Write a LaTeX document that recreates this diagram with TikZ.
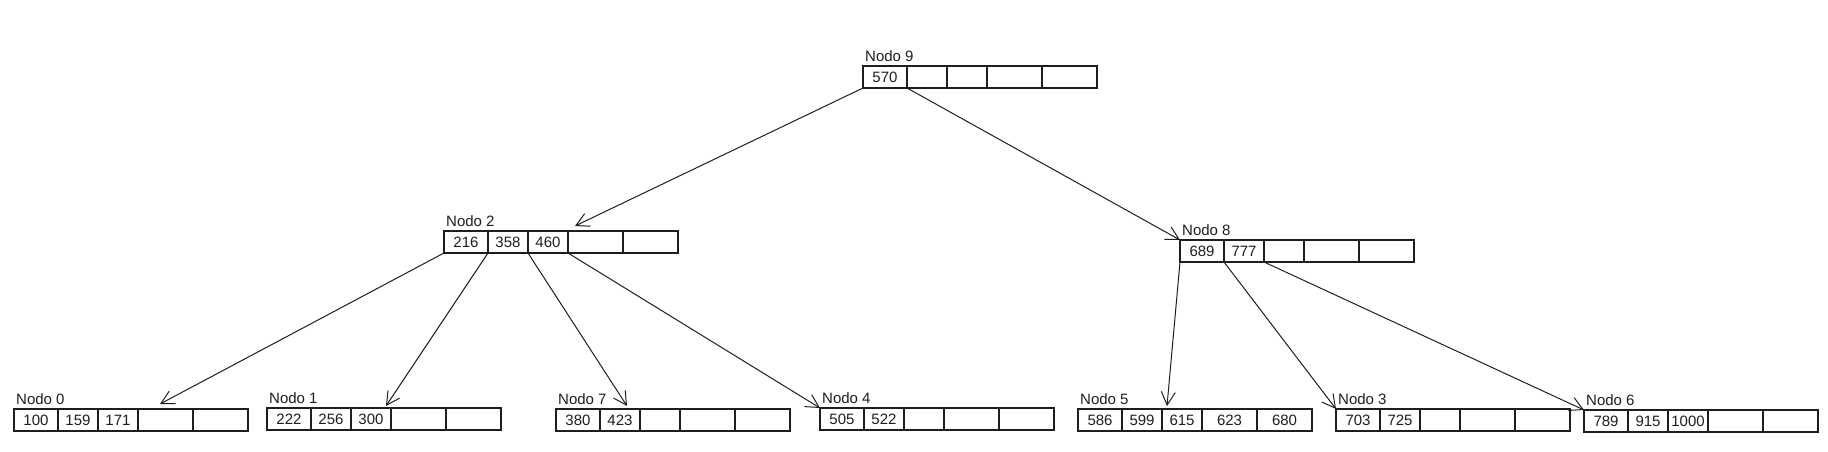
\documentclass[tikz,border=0pt]{standalone}
\usepackage{fontspec}
\setmainfont{Liberation Sans}
\usepackage{xcolor}
\definecolor{trazo}{RGB}{30,30,30}
\usepackage{tikz}
\usetikzlibrary{arrows.meta, positioning}

\tikzset{
    celda/.style={draw=trazo, line width=1.2pt, minimum height=22pt, inner sep=0pt, outer sep=0pt},
    etiqueta/.style={anchor=south west, inner sep=0pt, xshift=2pt, yshift=4pt, font=\fontsize{15}{18}\selectfont, text=trazo},
    valor/.style={inner sep=0pt, font=\fontsize{15}{18}\selectfont, text=trazo},
    flecha/.style={draw=trazo, line width=1pt, -{Straight Barb[length=13pt, width=14pt]}}
}

% nodo del arbol: nombre, x, y, etiqueta, claves
\newcommand{\bnodo}[5]{%
    \node[celda, minimum width=44pt, anchor=north west] (#1-1) at (#2,#3) {};
    \node[celda, minimum width=40pt, right=0pt of #1-1] (#1-2) {};
    \node[celda, minimum width=40pt, right=0pt of #1-2] (#1-3) {};
    \node[celda, minimum width=55pt, right=0pt of #1-3] (#1-4) {};
    \node[celda, minimum width=55pt, right=0pt of #1-4] (#1-5) {};
    \node[etiqueta] (#1-lab) at (#1-1.north west) {#4};
    \foreach \v [count=\i] in {#5} {\node[valor] (#1-v\i) at (#1-\i) {\v};}
}

\begin{document}
\begin{tikzpicture}[x=1pt, y=-1pt]
        \useasboundingbox (0,0) rectangle (1828,452);

        % Raiz
        \bnodo{n9}{863}{66}{Nodo 9}{570}

        % Nivel intermedio
        \bnodo{n2}{444}{231}{Nodo 2}{216,358,460}
        \bnodo{n8}{1180}{240}{Nodo 8}{689,777}

        % Hojas
        \bnodo{n0}{14}{409}{Nodo 0}{100,159,171}
        \bnodo{n1}{267}{408}{Nodo 1}{222,256,300}
        \bnodo{n7}{556}{409}{Nodo 7}{380,423}
        \bnodo{n4}{820}{408}{Nodo 4}{505,522}
        \bnodo{n5}{1078}{409}{Nodo 5}{586,599,615,623,680}
        \bnodo{n3}{1336}{409}{Nodo 3}{703,725}
        \bnodo{n6}{1584}{410}{Nodo 6}{789,915,1000}

        % Punteros
        \draw[flecha] (n9-1.south west) -- ([shift={(7,-5)}]n2-4.north west);
        \draw[flecha] (n9-1.south east) -- (n8-1.north west);
        \draw[flecha] (n2-1.south west) -- ([shift={(22,-5)}]n0-4.north west);
        \draw[flecha] (n2-1.south east) -- ([shift={(-5,-2)}]n1-4.north west);
        \draw[flecha] (n2-2.south east) -- ([shift={(-13,-3)}]n7-2.north east);
        \draw[flecha] (n2-3.south east) -- (n4-1.north west);
        \draw[flecha] (n8-1.south west) -- ([shift={(5,-3)}]n5-3.north west);
        \draw[flecha] (n8-1.south east) -- (n3-1.north west);
        \draw[flecha] (n8-2.south east) -- (n6-1.north west);
\end{tikzpicture}
\end{document}
